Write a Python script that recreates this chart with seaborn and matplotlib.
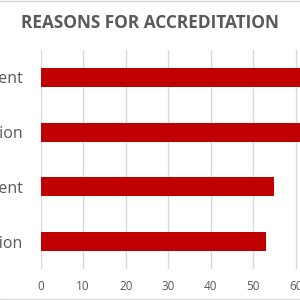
import matplotlib
matplotlib.use('Agg')
import matplotlib.pyplot as plt
import seaborn as sns
import pandas as pd

# Chart data (top to bottom); only the label endings are visible in the source
reasons = ['Quality improvement', 'Professional recognition',
           'Staff development', 'Competitive differentiation']
percent = [64, 62, 55, 53]
xticks = [0, 10, 20, 30, 40, 50, 60]

df = pd.DataFrame({'Reason': reasons, 'Percent': percent})

sns.set_style('white')
plt.rcParams['font.family'] = ['Open Sans', 'DejaVu Sans']

fig = plt.figure(figsize=(3, 3), dpi=100)
ax = fig.add_axes([40.7 / 300, 31 / 300, 1 - 40.7 / 300, 219 / 300])

sns.barplot(data=df, x='Percent', y='Reason', orient='h', color='#C00000',
            width=0.35, saturation=1, edgecolor='none', ax=ax)

ax.set_xlim(0, (300 - 40.7) / 4.25)
ax.set_xticks(xticks)
ax.grid(axis='x', color='#d9d9d9', linewidth=1)
ax.set_axisbelow(True)
for s in ax.spines.values():
    s.set_visible(False)
ax.tick_params(axis='both', length=0, colors='#595959')
ax.tick_params(axis='x', labelsize=8.5, pad=8)
ax.tick_params(axis='y', labelsize=11.5, pad=13)
ax.set_xlabel('')
ax.set_ylabel('')

fig.text(0.5, 1 - 23 / 300, 'REASONS FOR ACCREDITATION', ha='center', va='center',
         fontsize=12.4, fontweight='bold', color='#595959')

# chart border lines visible at top and bottom of the crop
fig.add_artist(plt.Line2D([0, 1], [0.997, 0.997], color='#d9d9d9', linewidth=1))
fig.add_artist(plt.Line2D([0, 1], [0.003, 0.003], color='#d9d9d9', linewidth=1))

fig.savefig('out.png', dpi=100)
